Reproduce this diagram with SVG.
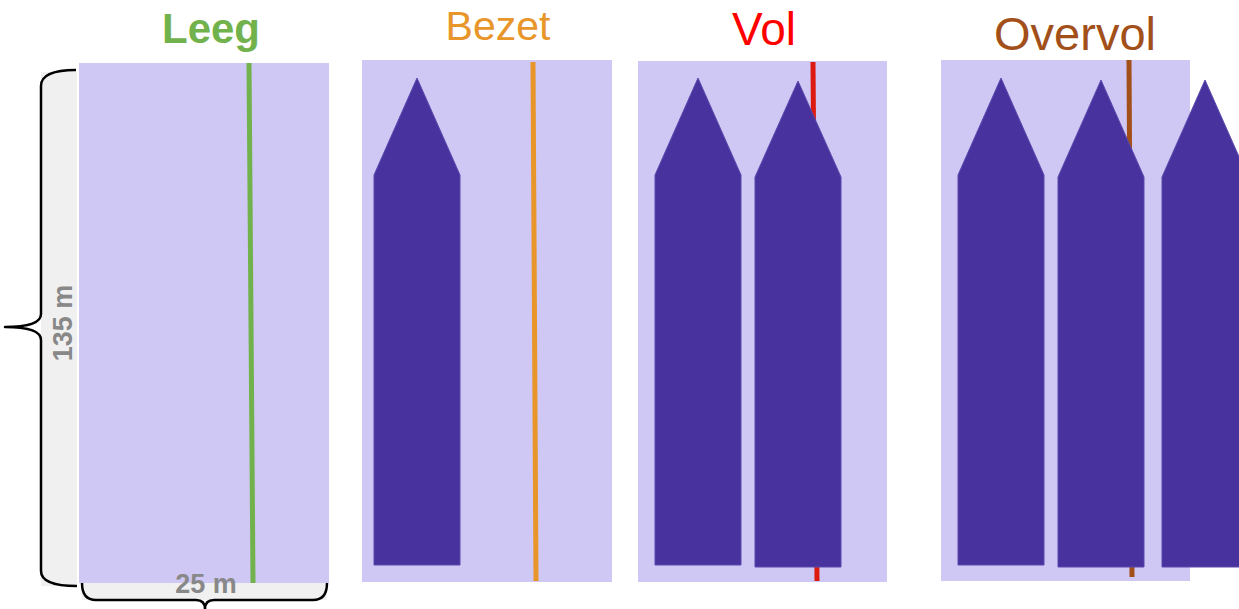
<svg xmlns="http://www.w3.org/2000/svg" width="1239" height="609" viewBox="0 0 1239 609">
<style>
.panel{fill:#cfc8f5}
.ship{fill:#48339e;stroke:#5b49ad;stroke-width:1}
.title{font-family:"Liberation Sans",Arial,sans-serif;text-anchor:middle}
.dim{font-family:"Liberation Sans",Arial,sans-serif;font-weight:bold;fill:#888888;font-size:27px;text-anchor:middle}
.brace{fill:none;stroke:#000;stroke-width:2.5;stroke-linejoin:round}
.grey{fill:#f0f0f0}
</style>
<defs>
<polygon id="ship" points="0,97 43,0 86,97 86,487 0,487"/>
</defs>
<rect width="1239" height="609" fill="#ffffff"/>
<g id="dimensions">
<rect class="grey" x="41" y="72" width="36" height="514"/>
<rect class="grey" x="82" y="583" width="245" height="17"/>
<path class="brace" d="M76,70 Q41,70 41,86 L41,314 Q41,327 5,327 Q41,327 41,340 L41,571 Q41,586 77,586"/>
<path class="brace" d="M82,583 Q82,600 96,600 L196,600 Q205,600 205,609 Q205,600 214,600 L313,600 Q327,600 327,583"/>
<text class="dim" transform="translate(72,323) rotate(-90)">135 m</text>
</g>
<g id="leeg">
<text class="title" x="211" y="43" font-size="42" font-weight="bold" fill="#72b24c">Leeg</text>
<rect class="panel" x="79" y="63" width="250" height="520"/>
<line x1="249" y1="63" x2="253" y2="583" stroke="#72b24c" stroke-width="5"/>
</g>
<text class="dim" x="206" y="593">25 m</text>
<g id="bezet">
<text class="title" x="498" y="40" font-size="41" fill="#e8952a">Bezet</text>
<rect class="panel" x="362" y="60" width="250" height="522"/>
<line x1="533" y1="62" x2="536" y2="581" stroke="#e8952a" stroke-width="5"/>
<use href="#ship" class="ship" x="374" y="78"/>
</g>
<g id="vol">
<text class="title" x="764" y="45" font-size="46" fill="#ff0000">Vol</text>
<rect class="panel" x="638" y="61" width="249" height="521"/>
<line x1="813" y1="62" x2="817" y2="581" stroke="#dd1a10" stroke-width="5"/>
<use href="#ship" class="ship" x="655" y="78"/>
<polygon class="ship" points="755,177 798,81 841,177 841,567 755,567"/>
</g>
<g id="overvol">
<text class="title" x="1075" y="50" font-size="47" fill="#a24f1a">Overvol</text>
<rect class="panel" x="941" y="60" width="249" height="521"/>
<line x1="1129" y1="60" x2="1132" y2="577" stroke="#a24f1a" stroke-width="5"/>
<use href="#ship" class="ship" x="958" y="78"/>
<polygon class="ship" points="1058,177 1101,80 1144,177 1144,567 1058,567"/>
<polygon class="ship" points="1162,177 1205,80 1248,177 1248,567 1162,567"/>
</g>
</svg>
